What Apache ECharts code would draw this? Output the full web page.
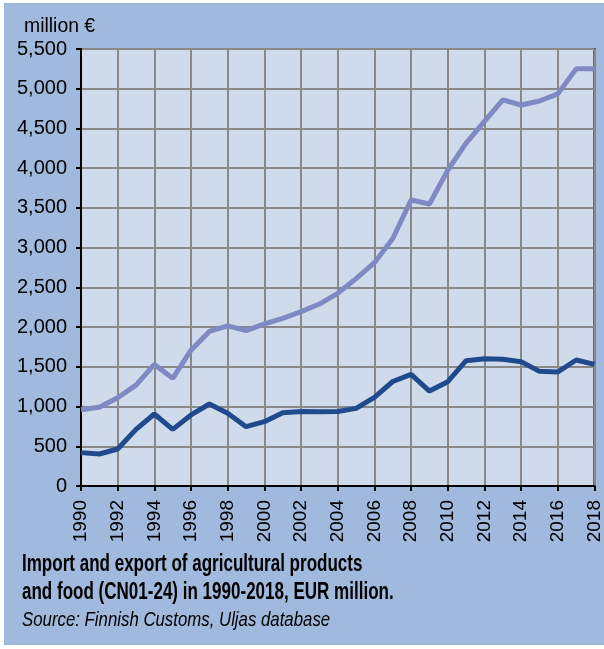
<!DOCTYPE html>
<html>
<head>
<meta charset="utf-8">
<style>
  html, body { margin: 0; padding: 0; background: #ffffff; }
  #chart { width: 604px; height: 649px; }
</style>
<script src="https://cdn.jsdelivr.net/npm/echarts@6/dist/echarts.min.js"></script>
</head>
<body>
<div id="chart"></div>
<script>
// Finnish trade in agricultural products and food (CN01-24), EUR million
const years = [1990, 1991, 1992, 1993, 1994, 1995, 1996, 1997, 1998, 1999,
               2000, 2001, 2002, 2003, 2004, 2005, 2006, 2007, 2008, 2009,
               2010, 2011, 2012, 2013, 2014, 2015, 2016, 2017, 2018];
const importValues = [960, 990, 1110, 1270, 1530, 1355, 1710, 1945, 2015, 1955,
                      2040, 2110, 2195, 2290, 2425, 2610, 2810, 3115, 3600, 3550,
                      3975, 4315, 4590, 4860, 4795, 4845, 4935, 5250, 5250];
const exportValues = [420, 403, 466, 713, 906, 713, 894, 1032, 915, 747,
                      810, 923, 937, 935, 937, 977, 1116, 1315, 1405, 1195,
                      1313, 1577, 1602, 1595, 1565, 1443, 1435, 1586, 1531];
const yTicks = [0, 500, 1000, 1500, 2000, 2500, 3000, 3500, 4000, 4500, 5000, 5500];

const FONT = '"Liberation Sans", Arial, sans-serif';
const pairs = vals => years.map((y, i) => [y, vals[i]]);
const fmtThousands = v => String(v).replace(/\B(?=(\d{3})+(?!\d))/g, ',');

const chart = echarts.init(document.getElementById('chart'), null, { renderer: 'canvas' });

chart.setOption({
  animation: false,
  backgroundColor: '#ffffff',
  graphic: [
    { type: 'rect', z: -10, silent: true,
      shape: { x: 4, y: 3, width: 600, height: 642 },
      style: { fill: '#a0b9dd' } },
    // unit label above the value axis
    { type: 'text', x: 24, y: 14, scaleX: 0.97,
      style: { text: 'million €', font: '20px ' + FONT, lineHeight: 24, fill: '#000' } },
    // caption (condensed to the narrow typeface of the publication)
    { type: 'text', x: 22, y: 551, scaleX: 0.74,
      style: { text: 'Import and export of agricultural products\nand food (CN01-24) in 1990-2018, EUR million.',
               font: 'bold 23px ' + FONT, lineHeight: 28, fill: '#000' } },
    { type: 'text', x: 22, y: 608, scaleX: 0.8,
      style: { text: 'Source: Finnish Customs, Uljas database',
               font: 'italic 21px ' + FONT, lineHeight: 25, fill: '#000' } }
  ],
  grid: {
    left: 81, right: 6, top: 49, bottom: 163,
    show: true, backgroundColor: '#cfdaea', borderColor: '#000', borderWidth: 2
  },
  xAxis: {
    type: 'value', min: 1990, max: 2018, interval: 2,
    axisLine: { lineStyle: { color: '#000', width: 2 } },
    axisTick: { show: true, length: 5, lineStyle: { color: '#000', width: 2 } },
    splitLine: { show: true, lineStyle: { color: '#888888', width: 2 } },
    axisLabel: {
      rotate: 90, margin: 14, color: '#000', fontSize: 19, fontFamily: FONT,
      formatter: v => String(v)
    }
  },
  yAxis: {
    type: 'value', min: yTicks[0], max: yTicks[yTicks.length - 1], interval: 500,
    axisLine: { show: true, lineStyle: { color: '#000', width: 2 } },
    axisTick: { show: true, length: 5, lineStyle: { color: '#000', width: 2 } },
    splitLine: { show: true, lineStyle: { color: '#888888', width: 2 } },
    axisLabel: {
      margin: 14, color: '#000', fontSize: 20, fontFamily: FONT,
      formatter: v => fmtThousands(v)
    }
  },
  series: [
    { name: 'Import', type: 'line', data: pairs(importValues), showSymbol: false,
      lineStyle: { color: '#7f8ac4', width: 5 }, z: 3 },
    { name: 'Export', type: 'line', data: pairs(exportValues), showSymbol: false,
      lineStyle: { color: '#1f4a8d', width: 5 }, z: 4 }
  ]
});
</script>
</body>
</html>
